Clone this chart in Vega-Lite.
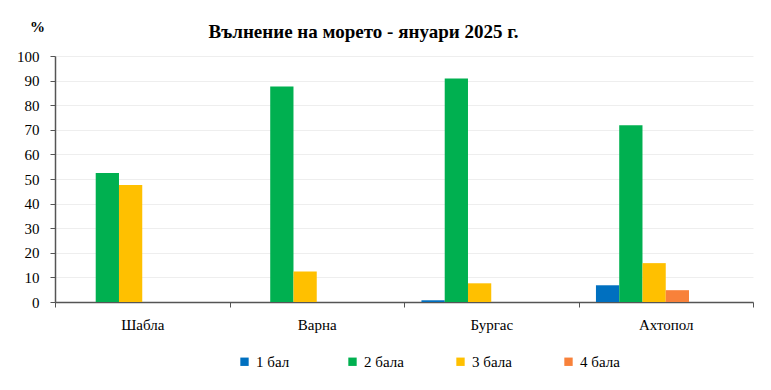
{
  "$schema": "https://vega.github.io/schema/vega-lite/v6.json",
  "autosize": {"type": "none"},
  "width": 698,
  "height": 246,
  "padding": {"left": 55, "top": 56, "right": 18, "bottom": 88},
  "background": "white",
  "title": {
    "text": "Вълнение на морето - януари 2025 г.",
    "anchor": "start",
    "dx": 192,
    "offset": -23,
    "font": "serif",
    "fontSize": 19,
    "fontWeight": "bold",
    "color": "black"
  },
  "data": {
    "values": [
      {"station": "Шабла", "wave": "1 бал", "value": 0},
      {"station": "Шабла", "wave": "2 бала", "value": 52.4},
      {"station": "Шабла", "wave": "3 бала", "value": 47.6},
      {"station": "Шабла", "wave": "4 бала", "value": 0},
      {"station": "Варна", "wave": "1 бал", "value": 0},
      {"station": "Варна", "wave": "2 бала", "value": 87.6},
      {"station": "Варна", "wave": "3 бала", "value": 12.4},
      {"station": "Варна", "wave": "4 бала", "value": 0},
      {"station": "Бургас", "wave": "1 бал", "value": 0.7},
      {"station": "Бургас", "wave": "2 бала", "value": 90.9},
      {"station": "Бургас", "wave": "3 бала", "value": 7.6},
      {"station": "Бургас", "wave": "4 бала", "value": 0},
      {"station": "Ахтопол", "wave": "1 бал", "value": 6.8},
      {"station": "Ахтопол", "wave": "2 бала", "value": 71.8},
      {"station": "Ахтопол", "wave": "3 бала", "value": 15.8},
      {"station": "Ахтопол", "wave": "4 бала", "value": 4.8}
    ]
  },
  "mark": {"type": "bar"},
  "encoding": {
    "x": {
      "field": "station",
      "type": "nominal",
      "sort": ["Шабла", "Варна", "Бургас", "Ахтопол"],
      "scale": {"paddingInner": 0, "paddingOuter": 0},
      "axis": {
        "title": null,
        "labelAngle": 0,
        "labelFont": "serif",
        "labelFontSize": 15,
        "labelColor": "black",
        "labelPadding": 10,
        "tickBand": "extent",
        "tickSize": 5,
        "tickColor": "#555555",
        "domainColor": "#555555",
        "domainWidth": 1.5,
        "grid": false
      }
    },
    "xOffset": {
      "field": "wave",
      "type": "nominal",
      "scale": {
        "domain": ["1 бал", "2 бала", "3 бала", "4 бала", "5 бала", "6 бала"],
        "paddingInner": 0,
        "paddingOuter": 0.75
      }
    },
    "y": {
      "field": "value",
      "type": "quantitative",
      "scale": {"domain": [0, 100], "nice": false},
      "axis": {
        "title": "%",
        "titleAngle": 0,
        "titleX": -18,
        "titleY": -22,
        "titleFont": "serif",
        "titleFontSize": 15,
        "titleFontWeight": "bold",
        "titleColor": "black",
        "values": [0, 10, 20, 30, 40, 50, 60, 70, 80, 90, 100],
        "labelFont": "serif",
        "labelFontSize": 15,
        "labelColor": "black",
        "labelPadding": 11,
        "tickSize": 5,
        "tickColor": "#555555",
        "domainColor": "#555555",
        "domainWidth": 1.5,
        "gridColor": "#eeeeee",
        "gridWidth": 1
      }
    },
    "color": {
      "field": "wave",
      "type": "nominal",
      "scale": {
        "domain": ["1 бал", "2 бала", "3 бала", "4 бала"],
        "range": ["#0070C0", "#00B050", "#FFC000", "#F8813A"]
      },
      "legend": {
        "title": null,
        "orient": "none",
        "direction": "horizontal",
        "legendX": 182,
        "legendY": 298,
        "columns": 4,
        "gridAlign": "all",
        "columnPadding": 49,
        "symbolType": "square",
        "symbolSize": 70,
        "symbolStrokeWidth": 0,
        "labelFont": "serif",
        "labelFontSize": 15,
        "labelColor": "black",
        "labelOffset": 4
      }
    }
  },
  "config": {
    "view": {"stroke": null}
  }
}
